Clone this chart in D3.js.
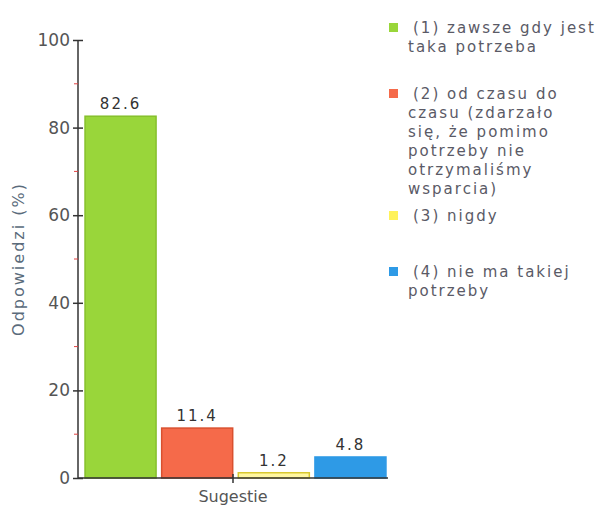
<!DOCTYPE html>
<html><head><meta charset="utf-8">
<script src="https://cdn.jsdelivr.net/npm/d3@7"></script>
<style>body{margin:0;background:#fff}svg{display:block}</style>
</head><body>
<svg id="c" width="603" height="505"></svg>
<script>
const categories = ["(1) zawsze gdy jest taka potrzeba","(2) od czasu do czasu (zdarzało się, że pomimo potrzeby nie otrzymaliśmy wsparcia)","(3) nigdy","(4) nie ma takiej potrzeby"];
const values = [82.6, 11.4, 1.2, 4.8];
const legendLines = [["(1) zawsze gdy jest","taka potrzeba"],["(2) od czasu do","czasu (zdarzało","się, że pomimo","potrzeby nie","otrzymaliśmy","wsparcia)"],["(3) nigdy"],["(4) nie ma takiej","potrzeby"]];
const fills = ["#99d63a","#f56a4a","#fff7a0","#2e9ae6"];
const strokes = ["#86c02c","#d9502f","#d8c830","#2e9ae6"];
const legendFills = ["#99d63a","#f56a4a","#fff25a","#2e9ae6"];
const yTicks = [0,20,40,60,80,100];
const yMinor = [10,30,50,70,90];
const xTitle = "Sugestie";
const yTitle = "Odpowiedzi (%)";

const svg = d3.select("#c");
const x0 = 78, x1 = 388, yTop = 40, yBot = 478;
const y = d3.scaleLinear().domain([0,100]).range([yBot,yTop]);
const x = d3.scaleBand().domain(d3.range(values.length)).range([x0+5, x1]).paddingInner(0.06).paddingOuter(0.02);

// bars
svg.selectAll("rect.bar").data(values).join("rect")
  .attr("x",(d,i)=>x(i)+0.5).attr("width",x.bandwidth()-1)
  .attr("y",d=>y(d)).attr("height",d=>yBot-y(d))
  .attr("fill",(d,i)=>fills[i]).attr("stroke",(d,i)=>strokes[i]).attr("stroke-width",1.5);

svg.selectAll("text.val").data(values).join("text")
  .attr("x",(d,i)=>x(i)+x.bandwidth()/2).attr("y",d=>y(d)-7)
  .attr("text-anchor","middle").attr("font-family","DejaVu Sans").attr("font-size",15)
  .attr("letter-spacing",2).attr("fill","#333").text(d=>d.toFixed(1));

// y axis
const ax = svg.append("g").attr("transform",`translate(${x0},0)`)
  .call(d3.axisLeft(y).tickValues(yTicks).tickSize(5).tickPadding(3).tickFormat(d3.format("d")));
ax.select(".domain").remove();
ax.selectAll(".tick line").attr("x1",-5).attr("x2",5).attr("stroke","#333").attr("stroke-width",1.5);
ax.selectAll(".tick text").attr("font-family","DejaVu Sans").attr("font-size",17).attr("fill","#555");
svg.append("line").attr("x1",x0).attr("x2",x0).attr("y1",yTop).attr("y2",yBot).attr("stroke","#333").attr("stroke-width",1.5);
svg.selectAll("line.minor").data(yMinor).join("line")
  .attr("x1",x0-4).attr("x2",x0).attr("y1",d=>y(d)).attr("y2",d=>y(d)).attr("stroke","#e04040").attr("stroke-width",1);

// x axis
svg.append("line").attr("x1",x0).attr("x2",x1).attr("y1",yBot).attr("y2",yBot).attr("stroke","#333").attr("stroke-width",1.5);
const xm = (x0+x1)/2 + 0;
svg.append("line").attr("x1",xm).attr("x2",xm).attr("y1",yBot-4).attr("y2",yBot+5).attr("stroke","#333").attr("stroke-width",1.5);
svg.append("text").attr("x",xm).attr("y",502).attr("text-anchor","middle")
  .attr("font-family","DejaVu Sans").attr("font-size",16).attr("fill","#555").text(xTitle);
svg.append("text").attr("transform",`translate(24,${(yTop+yBot)/2}) rotate(-90)`).attr("text-anchor","middle")
  .attr("font-family","DejaVu Sans").attr("font-size",16).attr("fill","#5a6b7b").attr("letter-spacing",2).text(yTitle);

// legend
const legY = [28, 94, 216, 272];
const lg = svg.append("g");
legendLines.forEach((lines,i)=>{
  lg.append("rect").attr("x",389).attr("y",legY[i]-5).attr("width",9).attr("height",9).attr("fill",legendFills[i]);
  lines.forEach((t,j)=>{
    lg.append("text").attr("x",j===0?413:408).attr("y",legY[i]+5+j*19)
      .attr("font-family","DejaVu Sans").attr("font-size",15).attr("fill","#5a5a66")
      .attr("letter-spacing",2).text(t);
  });
});
</script>
</body></html>
